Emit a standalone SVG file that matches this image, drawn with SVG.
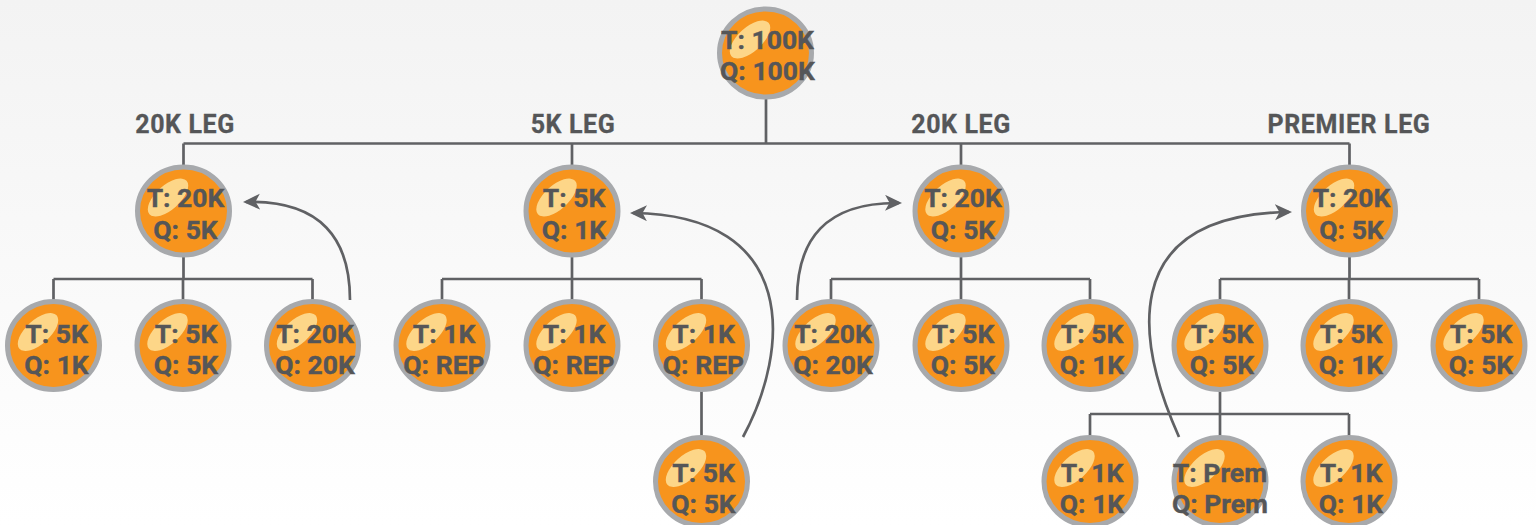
<svg xmlns="http://www.w3.org/2000/svg" width="1536" height="525" viewBox="0 0 1536 525">
<defs>
<linearGradient id="bg" x1="0" y1="0" x2="0" y2="1">
<stop offset="0" stop-color="#f3f3f3"/>
<stop offset="1" stop-color="#ffffff"/>
</linearGradient>
<marker id="ah" markerUnits="userSpaceOnUse" markerWidth="18" markerHeight="17" refX="14" refY="8" orient="auto">
<path d="M0,0 L17,8 L0,16 L4.5,8 z" fill="#606164"/>
</marker>
<g id="ball">
<ellipse cx="0" cy="0" rx="46" ry="44" fill="#f7941d" stroke="#a7a9ac" stroke-width="5"/>
<ellipse cx="-15.5" cy="-13.5" rx="25" ry="12" fill="#fdd688" transform="rotate(-42 -15.5 -13.5)"/>
</g>
</defs>
<style>
.ln{fill:none;stroke:#606164;stroke-width:2.7}
.ar{fill:none;stroke:#606164;stroke-width:2.7;marker-end:url(#ah)}
.t{font-family:Roboto,"Liberation Sans",sans-serif;font-weight:bold;font-size:26.5px;fill:#555658;stroke:#555658;stroke-width:0.4px;text-anchor:middle}
.lg{font-family:Roboto,"Liberation Sans",sans-serif;font-weight:bold;font-size:25px;fill:#555658;stroke:#555658;stroke-width:0.3px;text-anchor:middle;letter-spacing:0.6px}
</style>
<rect x="0" y="0" width="1536" height="525" fill="url(#bg)"/>

<g id="connectors">
<path class="ln" d="M766,99 V143.5 M183.5,143.5 H1349.5 M183.5,143.5 V166 M572,143.5 V166 M961,143.5 V166 M1349.5,143.5 V166"/>
<path class="ln" d="M183.5,256 V279 M53.5,279 H312.5 M53.5,279 V300 M183,279 V300 M312.5,279 V300"/>
<path class="ln" d="M572,256 V279 M442,279 H701.5 M442,279 V300 M572,279 V300 M701.5,279 V300"/>
<path class="ln" d="M961,256 V279 M831,279 H1090 M831,279 V300 M961,279 V300 M1090,279 V300"/>
<path class="ln" d="M1349.5,256 V279 M1220,279 H1479 M1220,279 V300 M1349,279 V300 M1479,279 V300"/>
<path class="ln" d="M701.5,391 V436"/>
<path class="ln" d="M1220,391 V414 M1090,414 H1349 M1090,414 V436 M1220,414 V436 M1349,414 V436"/>
<path class="ar" d="M350,300 C350,240 322,200 246,202"/>
<path class="ar" d="M743,437 C790,350 800,215 633,213"/>
<path class="ar" d="M797,300 C797,240 825,202 899,203"/>
<path class="ar" d="M1179,437 C1140,350 1110,215 1289,212"/>
</g>

<g id="labels">
<text class="lg" x="185" y="133">20K LEG</text>
<text class="lg" x="573" y="133">5K LEG</text>
<text class="lg" x="961" y="133">20K LEG</text>
<text class="lg" x="1349" y="133">PREMIER LEG</text>
</g>

<g id="n-root"><use href="#ball" x="765.5" y="53"/><text class="t" x="767.5" y="49">T: 100K</text><text class="t" x="767.5" y="80">Q: 100K</text></g>

<g id="n-a"><use href="#ball" x="183.5" y="211"/><text class="t" x="185.5" y="207">T: 20K</text><text class="t" x="185.5" y="239">Q: 5K</text></g>
<g id="n-b"><use href="#ball" x="572" y="211"/><text class="t" x="574" y="207">T: 5K</text><text class="t" x="574" y="239">Q: 1K</text></g>
<g id="n-c"><use href="#ball" x="961" y="211"/><text class="t" x="963" y="207">T: 20K</text><text class="t" x="963" y="239">Q: 5K</text></g>
<g id="n-d"><use href="#ball" x="1349.5" y="211"/><text class="t" x="1351.5" y="207">T: 20K</text><text class="t" x="1351.5" y="239">Q: 5K</text></g>

<g id="n-a1"><use href="#ball" x="53.5" y="345.5"/><text class="t" x="56.5" y="343">T: 5K</text><text class="t" x="56.5" y="374">Q: 1K</text></g>
<g id="n-a2"><use href="#ball" x="183" y="345.5"/><text class="t" x="186" y="343">T: 5K</text><text class="t" x="186" y="374">Q: 5K</text></g>
<g id="n-a3"><use href="#ball" x="312.5" y="345.5"/><text class="t" x="315" y="343">T: 20K</text><text class="t" x="315" y="374">Q: 20K</text></g>
<g id="n-b1"><use href="#ball" x="442" y="345.5"/><text class="t" x="444" y="343">T: 1K</text><text class="t" x="444" y="374">Q: REP</text></g>
<g id="n-b2"><use href="#ball" x="572" y="345.5"/><text class="t" x="574" y="343">T: 1K</text><text class="t" x="574" y="374">Q: REP</text></g>
<g id="n-b3"><use href="#ball" x="701.5" y="345.5"/><text class="t" x="703.5" y="343">T: 1K</text><text class="t" x="703.5" y="374">Q: REP</text></g>
<g id="n-c1"><use href="#ball" x="831" y="345.5"/><text class="t" x="833" y="343">T: 20K</text><text class="t" x="833" y="374">Q: 20K</text></g>
<g id="n-c2"><use href="#ball" x="961" y="345.5"/><text class="t" x="963" y="343">T: 5K</text><text class="t" x="963" y="374">Q: 5K</text></g>
<g id="n-c3"><use href="#ball" x="1090" y="345.5"/><text class="t" x="1092" y="343">T: 5K</text><text class="t" x="1092" y="374">Q: 1K</text></g>
<g id="n-d1"><use href="#ball" x="1220" y="345.5"/><text class="t" x="1222" y="343">T: 5K</text><text class="t" x="1222" y="374">Q: 5K</text></g>
<g id="n-d2"><use href="#ball" x="1349" y="345.5"/><text class="t" x="1351" y="343">T: 5K</text><text class="t" x="1351" y="374">Q: 1K</text></g>
<g id="n-d3"><use href="#ball" x="1479" y="345.5"/><text class="t" x="1481" y="343">T: 5K</text><text class="t" x="1481" y="374">Q: 5K</text></g>

<g id="n-b3a"><use href="#ball" x="701.5" y="481.5"/><text class="t" x="703.5" y="482">T: 5K</text><text class="t" x="703.5" y="513">Q: 5K</text></g>
<g id="n-d1a"><use href="#ball" x="1090" y="481.5"/><text class="t" x="1092" y="482">T: 1K</text><text class="t" x="1092" y="513">Q: 1K</text></g>
<g id="n-d1b"><use href="#ball" x="1220" y="481.5"/><text class="t" x="1220" y="482">T: Prem</text><text class="t" x="1220" y="513">Q: Prem</text></g>
<g id="n-d1c"><use href="#ball" x="1349" y="481.5"/><text class="t" x="1351" y="482">T: 1K</text><text class="t" x="1351" y="513">Q: 1K</text></g>
</svg>
